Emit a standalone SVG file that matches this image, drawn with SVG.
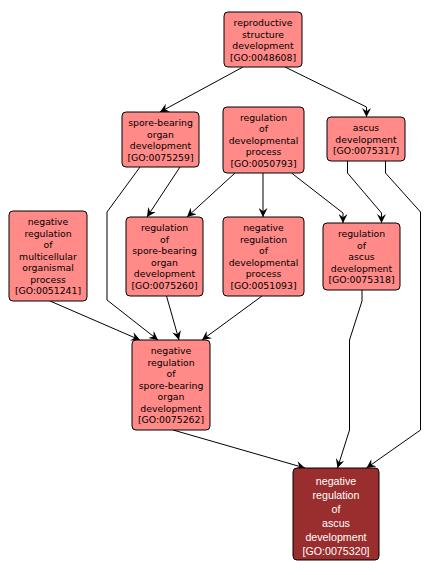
<svg xmlns="http://www.w3.org/2000/svg" width="430" height="575" viewBox="0 0 430 575">
<defs>
<marker id="arr" viewBox="0 0 10 10" refX="10" refY="5" markerWidth="9" markerHeight="9" markerUnits="userSpaceOnUse" orient="auto">
<path d="M0,0 L10,5 L0,10 L3.5,5 z" fill="#000"/>
</marker>
<style>
.n rect{fill:#ff8a87;stroke:#000;stroke-width:1}
.n text{font-family:"DejaVu Sans",Verdana,sans-serif;font-size:9.3px;fill:#000;text-anchor:middle}
.d rect{fill:#9a2e2e;stroke:#000;stroke-width:1}
.d text{font-family:"Liberation Sans",Arial,sans-serif;font-size:10.7px;fill:#fff;text-anchor:middle}
.e path{fill:none;stroke:#000;stroke-width:1;marker-end:url(#arr)}
</style>
</defs>
<rect width="430" height="575" fill="#fff"/>
<g class="e" id="edges">
<path d="M243,67 L160,112"/>
<path d="M285,67 L366.5,107 L366.5,117"/>
<path d="M180,167 L147,217"/>
<path d="M235,173 L187,217"/>
<path d="M263,173 L263,217"/>
<path d="M291.5,173 L343,213 L343,223"/>
<path d="M347.5,161 L347.5,173 L381.5,213 L381.5,223"/>
<path d="M385.5,161 L385.5,173 L420.5,212 L420.5,430 L366.5,468"/>
<path d="M140,167 L107,212 L107,300 L158,340"/>
<path d="M50,301 L140,340"/>
<path d="M166.5,296 L179,340"/>
<path d="M262,296 L202,340"/>
<path d="M362,290 L362,301 L349.5,340 L349.5,430 L337.5,468"/>
<path d="M173,430 L305,468"/>
</g>
<g class="n" id="GO0048608">
<rect x="224" y="12" width="78" height="55" rx="4"/>
<text x="263" y="26">reproductive</text>
<text x="263" y="37.5">structure</text>
<text x="263" y="49">development</text>
<text x="263" y="60.5">[GO:0048608]</text>
</g>
<g class="n" id="GO0075317">
<rect x="327" y="117" width="78" height="44" rx="4"/>
<text x="366" y="131">ascus</text>
<text x="366" y="142.5">development</text>
<text x="366" y="154">[GO:0075317]</text>
</g>
<g class="n" id="GO0050793">
<rect x="223" y="107" width="81" height="66" rx="4"/>
<text x="263.5" y="120.5">regulation</text>
<text x="263.5" y="132">of</text>
<text x="263.5" y="143.5">developmental</text>
<text x="263.5" y="155">process</text>
<text x="263.5" y="166.5">[GO:0050793]</text>
</g>
<g class="n" id="GO0075259">
<rect x="122" y="112" width="77" height="55" rx="4"/>
<text x="160.5" y="126">spore-bearing</text>
<text x="160.5" y="137.5">organ</text>
<text x="160.5" y="149">development</text>
<text x="160.5" y="160.5">[GO:0075259]</text>
</g>
<g class="n" id="GO0051241">
<rect x="9" y="211" width="78" height="90" rx="4"/>
<text x="48" y="225">negative</text>
<text x="48" y="236.5">regulation</text>
<text x="48" y="248">of</text>
<text x="48" y="259.5">multicellular</text>
<text x="48" y="271">organismal</text>
<text x="48" y="282.5">process</text>
<text x="48" y="294">[GO:0051241]</text>
</g>
<g class="n" id="GO0075260">
<rect x="126" y="217" width="77" height="79" rx="4"/>
<text x="164.5" y="231.3">regulation</text>
<text x="164.5" y="242.8">of</text>
<text x="164.5" y="254.3">spore-bearing</text>
<text x="164.5" y="265.8">organ</text>
<text x="164.5" y="277.3">development</text>
<text x="164.5" y="288.8">[GO:0075260]</text>
</g>
<g class="n" id="GO0051093">
<rect x="223" y="217" width="81" height="79" rx="4"/>
<text x="263.5" y="231.3">negative</text>
<text x="263.5" y="242.8">regulation</text>
<text x="263.5" y="254.3">of</text>
<text x="263.5" y="265.8">developmental</text>
<text x="263.5" y="277.3">process</text>
<text x="263.5" y="288.8">[GO:0051093]</text>
</g>
<g class="n" id="GO0075318">
<rect x="323" y="223" width="77" height="67" rx="4"/>
<text x="361.5" y="237">regulation</text>
<text x="361.5" y="248.5">of</text>
<text x="361.5" y="260">ascus</text>
<text x="361.5" y="271.5">development</text>
<text x="361.5" y="283">[GO:0075318]</text>
</g>
<g class="n" id="GO0075262">
<rect x="132" y="340" width="78" height="90" rx="4"/>
<text x="171" y="354">negative</text>
<text x="171" y="365.5">regulation</text>
<text x="171" y="377">of</text>
<text x="171" y="388.5">spore-bearing</text>
<text x="171" y="400">organ</text>
<text x="171" y="411.5">development</text>
<text x="171" y="423">[GO:0075262]</text>
</g>
<g class="d" id="GO0075320">
<rect x="293" y="468" width="86" height="92" rx="4"/>
<text x="336" y="485">negative</text>
<text x="336" y="499">regulation</text>
<text x="336" y="513">of</text>
<text x="336" y="527">ascus</text>
<text x="336" y="541">development</text>
<text x="336" y="555">[GO:0075320]</text>
</g>
</svg>
